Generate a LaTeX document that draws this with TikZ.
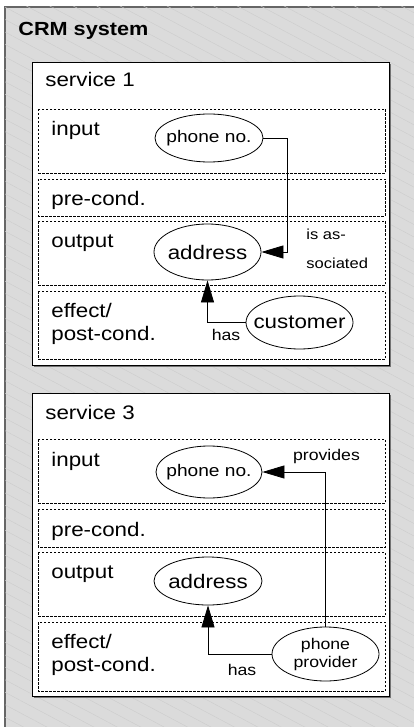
\documentclass[tikz,border=0pt]{standalone}
\usepackage{fontspec}
\setmainfont{Liberation Sans}[FakeStretch=1.14]
\usetikzlibrary{shapes.geometric,arrows.meta,patterns.meta}

\begin{document}
\begin{tikzpicture}[x=1pt,y=-1pt,line width=0.8pt]
  \def\fbig{\fontsize{19.6}{23.5}\selectfont}
  \def\fmid{\fontsize{16.8}{19}\selectfont}
  \def\fsmall{\fontsize{15.5}{18}\selectfont}

\tikzstyle{rowbox}=[draw,dash pattern=on 2.5pt off 1.5pt,line width=0.7pt]
\tikzstyle{concept}=[ellipse,draw,fill=white,inner xsep=-40pt,inner ysep=-20pt]
\tikzstyle{row}=[anchor=base west,inner sep=0pt,font=\fbig]
\tikzstyle{rel}=[inner sep=0pt,font=\fsmall]
\tikzstyle{arr}=[-{Triangle[length=22pt,width=13pt]}]

\useasboundingbox (0,0) rectangle (414,727);
\fill[white] (0,0) rectangle (414,727);
\path[draw=black!60,line width=1.2pt,fill=black!14,
  postaction={pattern={Lines[angle=-28,distance=11pt,line width=0.4pt]},pattern color=black!20}]
  (5,7) rectangle (430,740);
\node[anchor=base west,inner sep=0pt,font=\bfseries\fontsize{19}{22}\selectfont] (crm) at (18,35.5) {CRM system};

% service 1
\fill[black!55] (34,64) rectangle (391,367);
\draw[fill=white] (32,62) rectangle (389,365);
\node[row] (s1) at (45,87) {service 1};
\draw[rowbox] (38,109) rectangle (385,173);
\draw[rowbox] (38,179) rectangle (385,216);
\draw[rowbox] (38,221) rectangle (385,285);
\draw[rowbox] (38,291) rectangle (385,359);
\node[row] (s1in) at (51,136) {input};
\node[row] (s1pre) at (51,206) {pre-cond.};
\node[row] (s1out) at (51,247) {output};
\node[row,anchor=west,align=left] (s1eff) at (51,323.75) {effect/\\post-cond.};

\node[concept,minimum width=108pt,minimum height=48pt,font=\fmid] (ph1) at (209,138) {phone no.};
\node[concept,minimum width=107pt,minimum height=56pt,font=\fbig] (ad1) at (207.5,252) {address};
\node[concept,minimum width=107pt,minimum height=53pt,font=\fbig] (cu1) at (299.5,322.5) {customer};
\draw[arr] (ph1.east) -- ++(24,0) |- (ad1.east);
\draw[arr] (cu1.west) -| (ad1.south);
\node[rel,anchor=west,align=left,font=\fontsize{14.5}{29.5}\selectfont] (as1) at (306,248.8) {is as-\\sociated};
\node[rel,anchor=base] (has1) at (226,340) {has};

% service 3
\fill[black!55] (34,395) rectangle (391,698);
\draw[fill=white] (32,393) rectangle (389,696);
\node[row] (s3) at (45,419) {service 3};
\draw[rowbox] (38,439) rectangle (385,503);
\draw[rowbox] (38,509) rectangle (385,547);
\draw[rowbox] (38,552) rectangle (385,616);
\draw[rowbox] (38,622) rectangle (385,691);
\node[row] (s3in) at (51,466) {input};
\node[row] (s3pre) at (51,536) {pre-cond.};
\node[row] (s3out) at (51,578) {output};
\node[row,anchor=west,align=left] (s3eff) at (51,654.75) {effect/\\post-cond.};

\node[concept,minimum width=106pt,minimum height=52pt,font=\fmid] (ph3) at (209,472) {phone no.};
\node[concept,minimum width=108pt,minimum height=48pt,font=\fbig] (ad3) at (208,581) {address};
\node[concept,minimum width=107pt,minimum height=54pt,font=\fsmall,align=center] (pp3) at (325.5,654) {phone\\provider};
\draw[arr] (pp3.north) |- (ph3.east);
\draw[arr] (pp3.west) -| (ad3.south);
\node[rel,anchor=base] (prov3) at (326.5,460) {provides};
\node[rel,anchor=base] (has3) at (242,675) {has};
\end{tikzpicture}
\end{document}
